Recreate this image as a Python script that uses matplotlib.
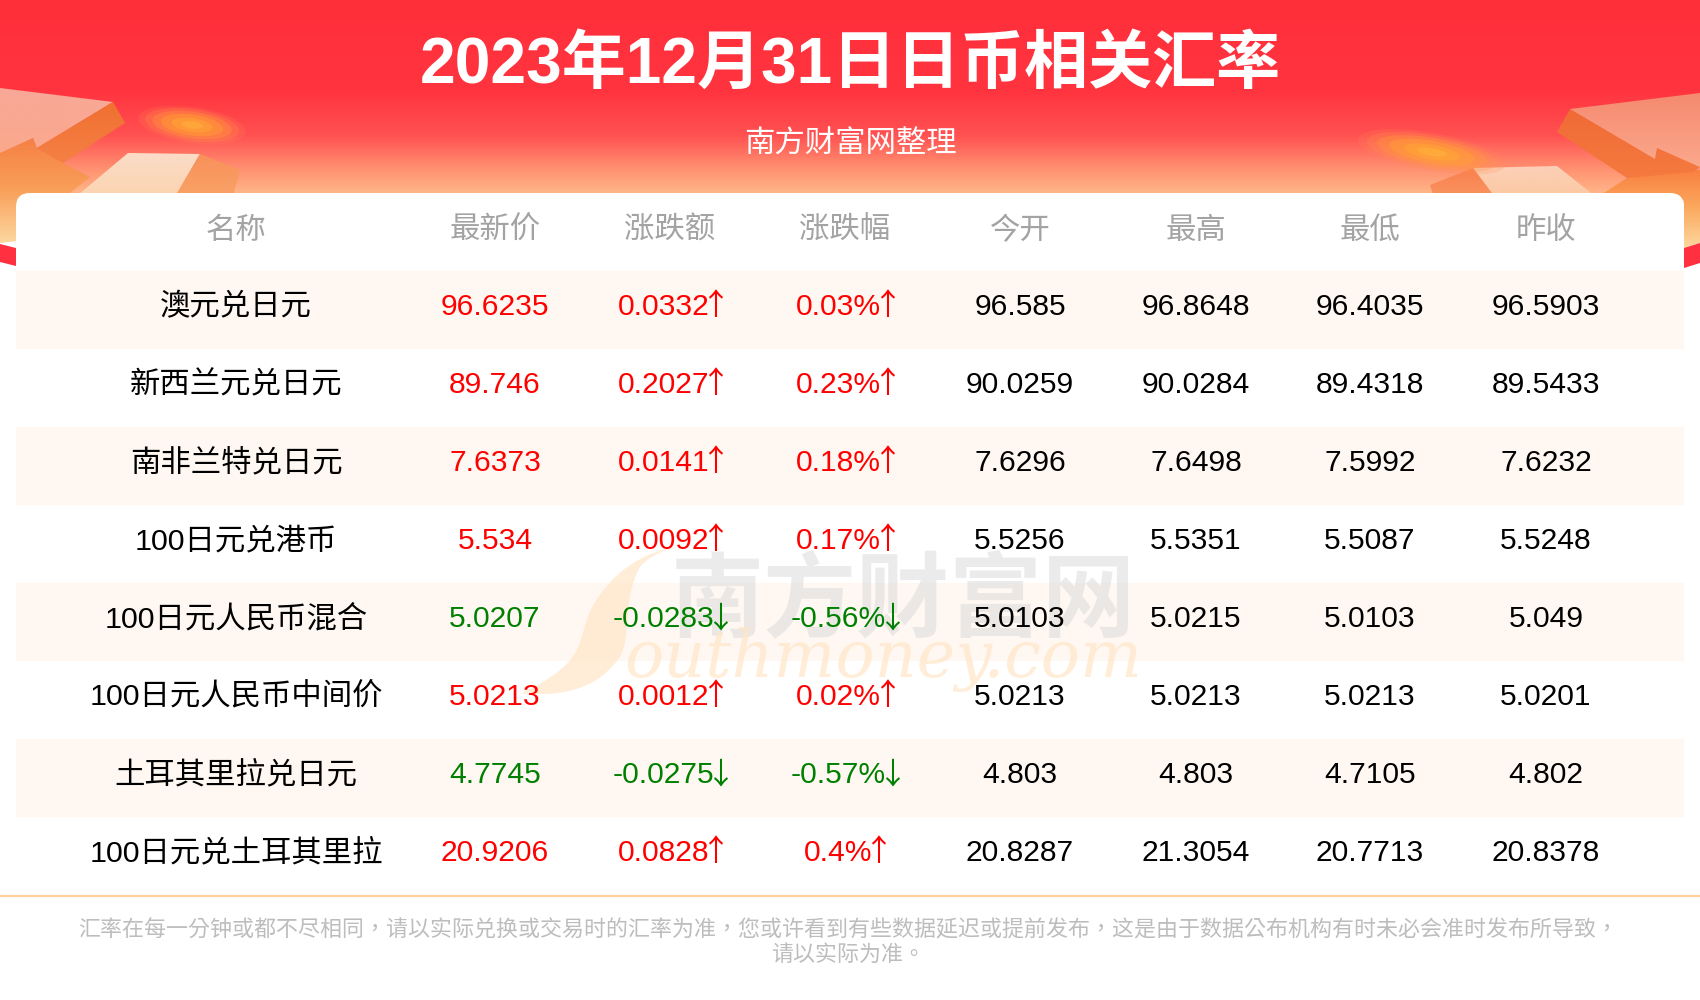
#!/usr/bin/env python3
"""
Exchange rate table card: JPY related pairs on 2023-12-31
"""

import numpy as np
import matplotlib
matplotlib.use('Agg')
import matplotlib.pyplot as plt
from matplotlib.colors import LinearSegmentedColormap
from matplotlib.patches import Ellipse, FancyBboxPatch, PathPatch, Polygon, Rectangle
from matplotlib.path import Path

plt.rcParams['font.family'] = ['Liberation Sans', 'Noto Sans CJK SC', 'DejaVu Sans']

title = '2023年12月31日日币相关汇率'
subtitle = '南方财富网整理'
headers = ['名称', '最新价', '涨跌额', '涨跌幅', '今开', '最高', '最低', '昨收']
names = ['澳元兑日元', '新西兰元兑日元', '南非兰特兑日元', '100日元兑港币',
         '100日元人民币混合', '100日元人民币中间价', '土耳其里拉兑日元', '100日元兑土耳其里拉']
latest = [96.6235, 89.746, 7.6373, 5.534, 5.0207, 5.0213, 4.7745, 20.9206]
change = [0.0332, 0.2027, 0.0141, 0.0092, -0.0283, 0.0012, -0.0275, 0.0828]
change_pct = [0.03, 0.23, 0.18, 0.17, -0.56, 0.02, -0.57, 0.4]
open_price = [96.585, 90.0259, 7.6296, 5.5256, 5.0103, 5.0213, 4.803, 20.8287]
high = [96.8648, 90.0284, 7.6498, 5.5351, 5.0215, 5.0213, 4.803, 21.3054]
low = [96.4035, 89.4318, 7.5992, 5.5087, 5.0103, 5.0213, 4.7105, 20.7713]
prev_close = [96.5903, 89.5433, 7.6232, 5.5248, 5.049, 5.0201, 4.802, 20.8378]
footer = ['汇率在每一分钟或都不尽相同，请以实际兑换或交易时的汇率为准，您或许看到有些数据延迟或提前发布，'
          '这是由于数据公布机构有时未必会准时发布所导致，',
          '请以实际为准。']

W, H = 1700, 1000
CARD_L, CARD_R, CARD_T = 16, 1684, 193
ROW_T, ROW_H = 271, 78
COL_X = [236, 495, 670, 845, 1020, 1196, 1370, 1546]
FS = 21.6
FS_CJK = 21.9
ARROW_ADV = 13


def gradient_poly(ax, pts, colors, zorder=1):
    """Fill a polygon with a vertical gradient"""
    xs = [p[0] for p in pts]
    ys = [p[1] for p in pts]
    cmap = LinearSegmentedColormap.from_list('g', colors)
    im = ax.imshow(np.linspace(0, 1, 256)[:, None], cmap=cmap, aspect='auto',
                   extent=(min(xs), max(xs), max(ys), min(ys)), zorder=zorder)
    patch = Polygon(pts, closed=True, transform=ax.transData, fc='none', ec='none')
    ax.add_patch(patch)
    im.set_clip_path(patch)


def comet(ax, xy, w, h, angle):
    """Soft orange blur made of nested ellipses"""
    for scale, col, alpha in [(1.0, '#ff8a50', 0.18), (0.88, '#ff9448', 0.25),
                              (0.74, '#ff9c38', 0.35), (0.58, '#ffa630', 0.4),
                              (0.38, '#ffb030', 0.4), (0.2, '#ffc040', 0.35)]:
        ax.add_patch(Ellipse(xy, w * scale, h * scale, angle=angle, fc=col,
                             ec='none', alpha=alpha, zorder=1.5))


def arrow_cell(ax, renderer, x, y, txt, arrow, col):
    """Number and tall thin arrow, centred together on x"""
    t = ax.text(x, y, txt, fontsize=FS, color=col, ha='left', va='baseline', zorder=3)
    w = t.get_window_extent(renderer).width
    t.set_x(x - (w + ARROW_ADV) / 2)
    ax.text(x + (w + ARROW_ADV) / 2 - ARROW_ADV / 2, y, arrow, fontsize=FS,
            family=['Noto Sans CJK SC'], color=col, ha='center', va='baseline', zorder=3)


fig = plt.figure(figsize=(17, 10), dpi=100, facecolor='white')
ax = fig.add_axes([0, 0, 1, 1])
ax.axis('off')
renderer = fig.canvas.get_renderer()

# header background
bg = LinearSegmentedColormap.from_list('bg', [(0, '#ff2f3a'), (0.45, '#ff343f'),
                                              (0.67, '#ff5252'), (0.83, '#ff9070'),
                                              (1, '#ffc492')])
ax.imshow(np.linspace(0, 1, 256)[:, None], cmap=bg, aspect='auto',
          extent=(0, W, CARD_T + 10, 0), zorder=0)

# left decoration
gradient_poly(ax, [(0, 150), (33, 138), (37, 148), (63, 163), (90, 177), (70, 193), (28, 240),
                   (0, 243)], ['#f58045', '#f9a05a', '#fdd8a0'])
gradient_poly(ax, [(0, 88), (113, 102), (37, 148), (33, 138), (0, 153)], ['#f8a898', '#fba88c'])
gradient_poly(ax, [(113, 102), (125, 123), (63, 163), (37, 148)], ['#f07030', '#f58045'])
gradient_poly(ax, [(128, 153), (200, 154), (173, 200), (72, 200)], ['#fbdcc8', '#fcd4ae'])
gradient_poly(ax, [(200, 154), (240, 170), (232, 200), (173, 200)], ['#f8905a', '#f9a468'])
ax.add_patch(Polygon([(0, 244), (16, 248), (16, 266), (0, 262)], fc='#ff3040', ec='none', zorder=1))
comet(ax, (192, 125), 108, 36, 8)

# right decoration
gradient_poly(ax, [(1593, 200), (1627, 178), (1693, 170), (1700, 170), (1700, 243), (1684, 248),
                   (1684, 200)], ['#f98040', '#fbaa60', '#fdd8a0'])
gradient_poly(ax, [(1570, 109), (1557, 132), (1627, 178), (1693, 172), (1700, 167), (1657, 148)],
              ['#f06a35', '#f57a40'])
gradient_poly(ax, [(1570, 109), (1700, 93), (1700, 167), (1657, 148), (1655, 159)],
              ['#f58a70', '#fba88c'])
gradient_poly(ax, [(1473, 168), (1557, 166), (1600, 200), (1497, 200)], ['#fcd0b8', '#fcc8a0'])
gradient_poly(ax, [(1473, 168), (1430, 185), (1435, 200), (1497, 200)], ['#f98050', '#f99660'])
ax.add_patch(Polygon([(1684, 248), (1700, 243), (1700, 263), (1684, 268)], fc='#ff3040', ec='none',
                     zorder=1))
comet(ax, (1432, 152), 150, 38, 10)

# card and table rows
ax.add_patch(FancyBboxPatch((CARD_L + 14, CARD_T + 14), CARD_R - CARD_L - 28, 100,
                            boxstyle='round,pad=14,rounding_size=14', fc='white', ec='none',
                            zorder=2))
ax.add_patch(Rectangle((CARD_L, CARD_T + 30), CARD_R - CARD_L, 100, fc='white', ec='none', zorder=2))
for i in range(len(names)):
    if i % 2 == 0:
        ax.add_patch(Rectangle((CARD_L, ROW_T + i * ROW_H), CARD_R - CARD_L, ROW_H, fc='#fff8f2',
                               ec='none', zorder=2.1))
ax.plot([0, W], [ROW_T + len(names) * ROW_H + 1] * 2, color='#ffcf9c', lw=1.6, zorder=2.1,
        solid_capstyle='butt')

# watermark
ax.text(903, 630, '南方财富网', fontsize=67, fontweight='bold', color='#d8d8d8', alpha=0.5,
        ha='center', va='baseline', zorder=2.2)
ax.text(883, 677, 'outhmoney.com', fontsize=47, style='italic', family=['DejaVu Serif'],
        color='#ffe6c8', alpha=0.7, ha='center', va='baseline', zorder=2.2)
swoosh = [(678, 547), (640, 552), (610, 575), (592, 607), (580, 630), (585, 650), (560, 670),
          (545, 682), (530, 690), (520, 693), (570, 698), (600, 685), (620, 657), (632, 635),
          (622, 600), (640, 567), (650, 555), (665, 550), (678, 547)]
ax.add_patch(PathPatch(Path(swoosh, [Path.MOVETO] + [Path.CURVE4] * 18), fc='#ffe6c8', ec='none',
                       alpha=0.7, zorder=2.2))

# texts
ax.text(W / 2, 83, title, fontsize=46.1, fontweight='bold', color='white', ha='center',
        va='baseline', zorder=3)
ax.text(W / 2, 153, subtitle, fontsize=FS_CJK, color='white', ha='center', va='baseline', zorder=3)
for x, label in zip(COL_X, headers):
    ax.text(x, CARD_T + 46, label, fontsize=FS_CJK, color='#a3a3a3', ha='center', va='baseline',
            zorder=3)

for i, name in enumerate(names):
    y = ROW_T + i * ROW_H + 44
    up = change[i] >= 0
    col = '#ff0000' if up else '#008000'
    arrow = '↑' if up else '↓'
    ax.text(COL_X[0], y, name, fontsize=FS_CJK, color='black', ha='center', va='baseline', zorder=3)
    ax.text(COL_X[1], y, str(latest[i]), fontsize=FS, color=col, ha='center', va='baseline', zorder=3)
    arrow_cell(ax, renderer, COL_X[2], y, str(change[i]), arrow, col)
    arrow_cell(ax, renderer, COL_X[3], y, f'{change_pct[i]}%', arrow, col)
    for x, val in zip(COL_X[4:], [open_price[i], high[i], low[i], prev_close[i]]):
        ax.text(x, y, str(val), fontsize=FS, color='black', ha='center', va='baseline', zorder=3)

for y, line in zip([936, 961], footer):
    ax.text(848, y, line, fontsize=15.83, color='#bdbdbd', family=['Noto Sans CJK TC'], ha='center',
            va='baseline', zorder=3)

ax.set_xlim(0, W)
ax.set_ylim(H, 0)
fig.savefig('out.png', dpi=100)
